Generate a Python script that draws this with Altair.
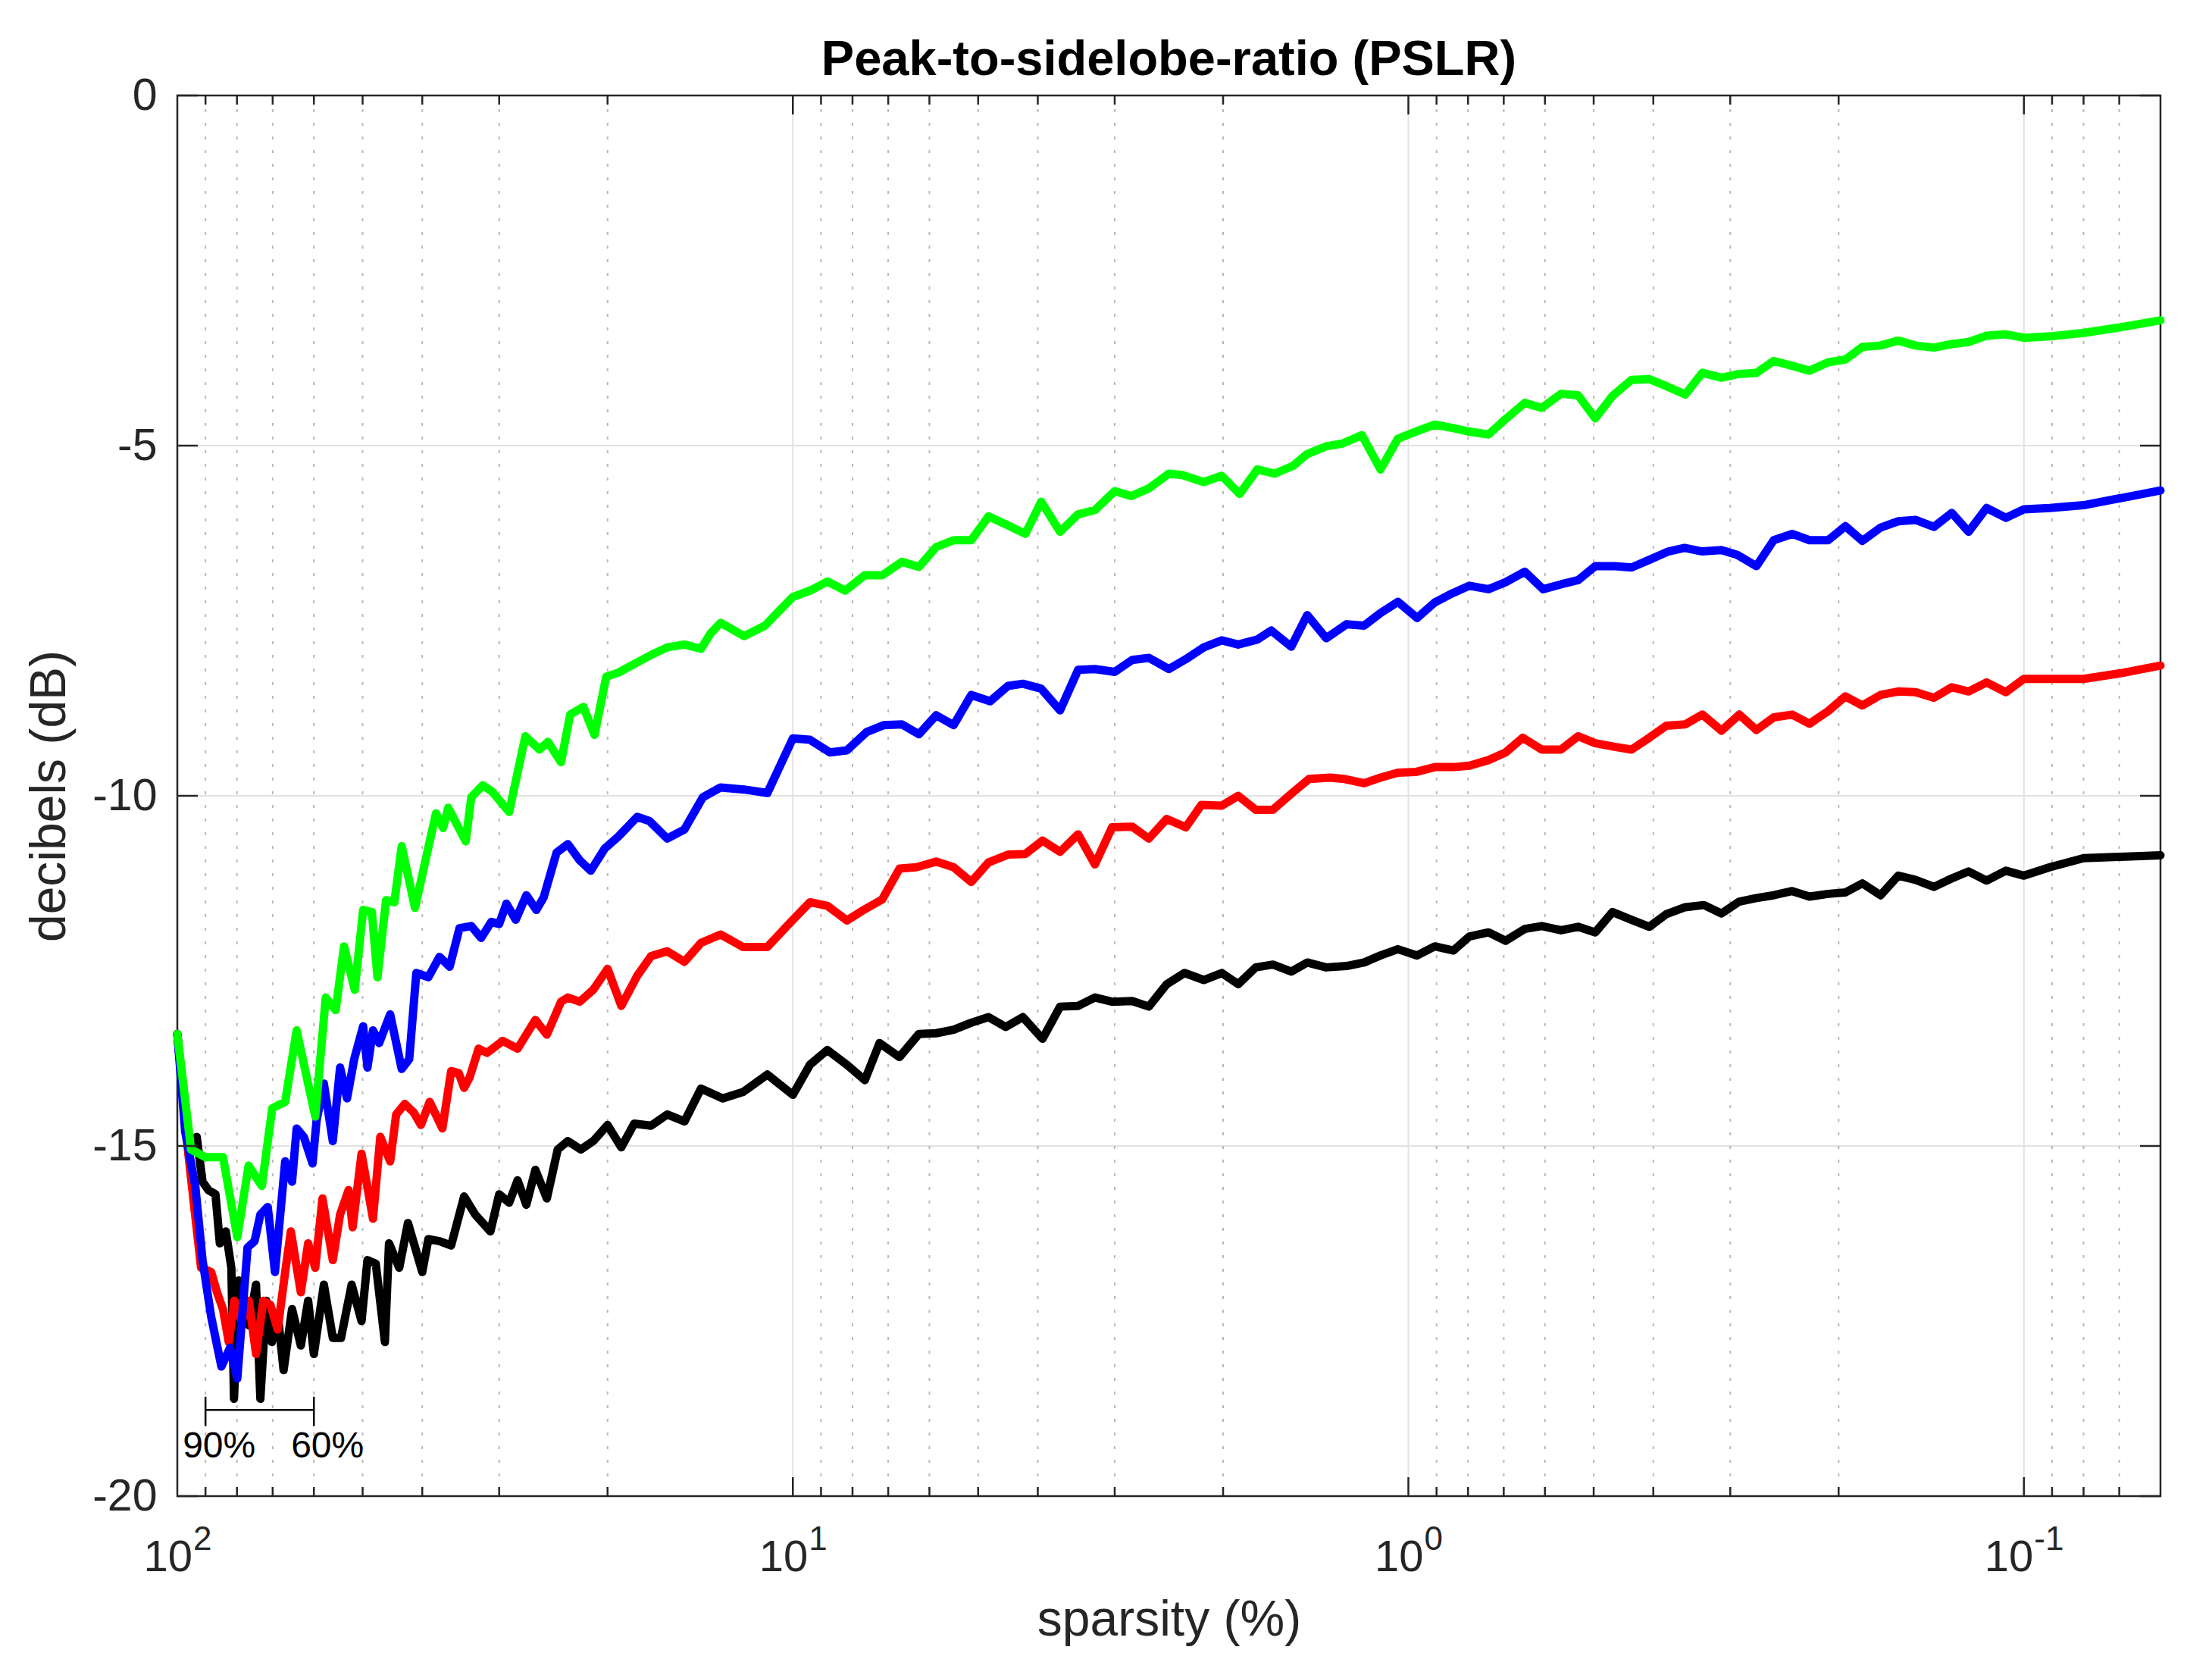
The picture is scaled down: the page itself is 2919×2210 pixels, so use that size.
import altair as alt
import pandas as pd

FONT = "Liberation Sans, Arial, Helvetica, sans-serif"
INK = "#262626"
W, H = 2617, 1848

# (sparsity %, PSLR dB)
green = [(100, -13.4), (95.0, -15.05), (90.0, -15.16), (84.3, -15.16), (79.9, -16.3), (76.6, -15.28),
         (72.9, -15.57), (70.1, -14.46), (66.8, -14.37), (64.0, -13.35), (59.7, -14.58), (57.4, -12.88),
         (55.3, -13.06), (53.6, -12.15), (51.5, -12.77), (49.9, -11.63), (48.3, -11.66), (47.3, -12.59),
         (45.8, -11.49), (44.4, -11.52), (43.2, -10.72), (41.1, -11.6), (38.9, -10.65), (38.0, -10.25),
         (37.0, -10.46), (36.3, -10.17), (34.0, -10.65), (33.3, -10.02), (31.9, -9.85), (30.8, -9.94),
         (28.9, -10.23), (27.2, -9.15), (25.8, -9.34), (25.0, -9.23), (23.8, -9.52), (23.0, -8.84),
         (21.9, -8.73), (21.0, -9.13), (20.1, -8.3), (19.2, -8.24), (18.2, -8.13), (17.0, -7.99),
         (16.0, -7.88), (15.0, -7.84), (14.1, -7.9), (13.6, -7.68), (13.1, -7.53), (12.0, -7.72),
         (11.1, -7.57), (10.5, -7.35), (10.0, -7.16), (9.38, -7.07), (8.79, -6.94), (8.22, -7.07),
         (7.64, -6.85), (7.16, -6.85), (6.65, -6.66), (6.24, -6.73), (5.85, -6.45), (5.48, -6.35),
         (5.13, -6.35), (4.81, -6.01), (4.47, -6.14), (4.19, -6.26), (3.95, -5.8), (3.68, -6.23),
         (3.44, -5.98), (3.23, -5.92), (3.00, -5.65), (2.82, -5.72), (2.64, -5.61), (2.45, -5.4),
         (2.33, -5.42), (2.15, -5.52), (2.01, -5.43), (1.88, -5.69), (1.76, -5.34), (1.65, -5.4),
         (1.54, -5.29), (1.46, -5.12), (1.36, -5.01), (1.28, -4.97), (1.19, -4.85), (1.11, -5.34),
         (1.04, -4.9), (0.973, -4.8), (0.906, -4.7), (0.845, -4.75), (0.796, -4.8), (0.741, -4.84),
         (0.695, -4.62), (0.647, -4.39), (0.607, -4.46), (0.565, -4.26), (0.530, -4.28), (0.497, -4.61),
         (0.466, -4.29), (0.434, -4.06), (0.406, -4.05), (0.381, -4.15), (0.355, -4.27), (0.333, -3.96),
         (0.310, -4.03), (0.292, -3.98), (0.272, -3.96), (0.255, -3.79), (0.238, -3.86), (0.223, -3.93),
         (0.208, -3.81), (0.195, -3.77), (0.183, -3.59), (0.171, -3.57), (0.160, -3.5), (0.150, -3.57),
         (0.140, -3.6), (0.131, -3.55), (0.123, -3.52), (0.115, -3.43), (0.107, -3.41), (0.100, -3.46),
         (0.0908, -3.44), (0.0800, -3.39), (0.0697, -3.31), (0.06, -3.21)]

blue = [(100, -13.4), (97.1, -14.8), (93.5, -15.57), (91.0, -16.63), (88.1, -17.44), (84.8, -18.15),
        (82.1, -17.88), (79.9, -18.32), (76.9, -16.45), (74.9, -16.36), (73.3, -15.98), (71.3, -15.87),
        (69.4, -16.8), (66.8, -15.22), (65.1, -15.51), (64.0, -14.75), (62.3, -14.87), (60.3, -15.25),
        (59.4, -14.64), (57.8, -14.11), (55.9, -14.93), (54.4, -13.88), (53.0, -14.32), (51.6, -13.76),
        (49.9, -13.29), (49.1, -13.88), (48.1, -13.35), (47.0, -13.53), (45.1, -13.12), (43.2, -13.9),
        (42.0, -13.76), (40.9, -12.53), (39.1, -12.59), (37.5, -12.3), (36.1, -12.44), (34.8, -11.89),
        (33.3, -11.86), (32.1, -12.03), (30.9, -11.8), (30.0, -11.83), (29.2, -11.54), (28.2, -11.77),
        (27.1, -11.42), (26.1, -11.63), (25.4, -11.45), (24.2, -10.81), (23.2, -10.69), (22.2, -10.92),
        (21.3, -11.07), (20.2, -10.75), (19.2, -10.58), (17.9, -10.3), (17.1, -10.36), (16.0, -10.61),
        (15.0, -10.48), (14.0, -10.02), (13.1, -9.88), (12.0, -9.91), (11.0, -9.96), (10.0, -9.18),
        (9.38, -9.2), (8.71, -9.38), (8.17, -9.35), (7.59, -9.09), (7.11, -8.99), (6.65, -8.98),
        (6.24, -9.12), (5.85, -8.85), (5.48, -8.99), (5.13, -8.56), (4.78, -8.65), (4.47, -8.43),
        (4.23, -8.4), (3.95, -8.47), (3.68, -8.78), (3.44, -8.2), (3.23, -8.19), (3.00, -8.23),
        (2.81, -8.06), (2.64, -8.03), (2.45, -8.19), (2.30, -8.05), (2.15, -7.88), (2.01, -7.78),
        (1.89, -7.84), (1.76, -7.77), (1.67, -7.64), (1.55, -7.87), (1.46, -7.42), (1.36, -7.75),
        (1.26, -7.55), (1.18, -7.57), (1.11, -7.39), (1.04, -7.23), (0.968, -7.46), (0.906, -7.24),
        (0.849, -7.11), (0.796, -7.0), (0.741, -7.05), (0.695, -6.95), (0.647, -6.8), (0.604, -7.05),
        (0.565, -6.98), (0.530, -6.92), (0.497, -6.72), (0.462, -6.72), (0.434, -6.74), (0.406, -6.63),
        (0.378, -6.51), (0.356, -6.46), (0.333, -6.51), (0.310, -6.49), (0.292, -6.56), (0.272, -6.72),
        (0.255, -6.35), (0.238, -6.26), (0.223, -6.35), (0.208, -6.35), (0.195, -6.15), (0.183, -6.36),
        (0.171, -6.17), (0.160, -6.08), (0.150, -6.06), (0.140, -6.16), (0.131, -5.96), (0.123, -6.23),
        (0.115, -5.89), (0.107, -6.03), (0.100, -5.91), (0.0908, -5.89), (0.0800, -5.85),
        (0.0697, -5.75), (0.06, -5.64)]

red = [(100, -13.4), (96.0, -15.1), (91.5, -16.74), (88.1, -16.8), (86.2, -17.09), (84.3, -17.33),
       (82.5, -17.8), (80.8, -17.21), (78.6, -17.5), (76.5, -17.21), (74.5, -17.97), (72.5, -17.21),
       (70.6, -17.27), (68.7, -17.62), (66.8, -16.8), (65.4, -16.22), (63.0, -17.09), (61.3, -16.39),
       (59.7, -16.74), (58.1, -15.75), (55.9, -16.63), (54.4, -15.98), (52.7, -15.63), (51.9, -16.16),
       (50.2, -15.11), (48.1, -16.04), (46.8, -14.87), (45.1, -15.22), (44.1, -14.55), (42.7, -14.4),
       (41.3, -14.52), (40.2, -14.7), (38.9, -14.37), (37.1, -14.75), (35.9, -13.93), (34.9, -13.96),
       (34.2, -14.17), (33.5, -14.02), (32.4, -13.61), (31.4, -13.67), (29.6, -13.5), (28.0, -13.61),
       (26.2, -13.2), (25.1, -13.41), (23.8, -12.94), (23.2, -12.88), (22.2, -12.94), (21.1, -12.77),
       (20.0, -12.47), (19.0, -13.0), (17.9, -12.57), (17.0, -12.29), (16.0, -12.22), (15.0, -12.37),
       (14.1, -12.1), (13.1, -11.98), (12.05, -12.16), (11.0, -12.16), (10.2, -11.85), (9.38, -11.52),
       (8.79, -11.57), (8.17, -11.78), (7.64, -11.62), (7.16, -11.48), (6.71, -11.04), (6.30, -11.02),
       (5.85, -10.94), (5.48, -11.02), (5.13, -11.23), (4.81, -10.95), (4.47, -10.84), (4.19, -10.83),
       (3.93, -10.64), (3.68, -10.8), (3.44, -10.55), (3.23, -10.98), (3.03, -10.45), (2.81, -10.44),
       (2.64, -10.61), (2.47, -10.33), (2.30, -10.45), (2.17, -10.13), (2.01, -10.14), (1.89, -10.0),
       (1.77, -10.2), (1.66, -10.2), (1.54, -9.95), (1.45, -9.76), (1.34, -9.74), (1.27, -9.76),
       (1.18, -9.82), (1.11, -9.74), (1.04, -9.67), (0.973, -9.66), (0.906, -9.59), (0.845, -9.59),
       (0.796, -9.57), (0.741, -9.49), (0.695, -9.38), (0.652, -9.17), (0.607, -9.34), (0.565, -9.34),
       (0.530, -9.15), (0.497, -9.25), (0.462, -9.3), (0.434, -9.34), (0.406, -9.17), (0.381, -9.0),
       (0.355, -8.98), (0.333, -8.84), (0.310, -9.07), (0.290, -8.84), (0.272, -9.06), (0.255, -8.88),
       (0.238, -8.84), (0.223, -8.97), (0.208, -8.79), (0.195, -8.58), (0.183, -8.71), (0.171, -8.56),
       (0.160, -8.51), (0.150, -8.52), (0.140, -8.6), (0.131, -8.45), (0.123, -8.51), (0.115, -8.38),
       (0.107, -8.52), (0.100, -8.33), (0.0908, -8.33), (0.0800, -8.33), (0.0697, -8.25), (0.06, -8.14)]

black = [(100, -13.4), (96.0, -14.99), (93.0, -14.87), (91.0, -15.51), (89.0, -15.63), (86.7, -15.69),
         (85.3, -16.39), (83.4, -16.22), (81.7, -16.74), (80.9, -18.61), (79.5, -16.92), (76.5, -17.56),
         (74.5, -16.98), (73.3, -18.61), (71.7, -17.21), (70.2, -17.8), (68.7, -17.39), (67.2, -18.2),
         (65.1, -17.33), (63.0, -17.85), (61.3, -17.21), (60.0, -17.97), (57.8, -16.98), (55.9, -17.74),
         (54.2, -17.74), (52.1, -16.98), (50.2, -17.5), (49.1, -16.63), (47.6, -16.68), (46.0, -17.8),
         (45.3, -16.39), (43.6, -16.74), (42.2, -16.1), (40.0, -16.8), (39.1, -16.33), (37.5, -16.36),
         (35.9, -16.42), (34.2, -15.72), (32.8, -15.98), (31.0, -16.22), (30.0, -15.69), (28.9, -15.81),
         (28.0, -15.49), (27.1, -15.84), (26.2, -15.34), (25.1, -15.75), (24.1, -15.05), (23.2, -14.93),
         (22.1, -15.05), (21.1, -14.93), (20.0, -14.7), (19.0, -15.02), (18.1, -14.68), (17.0, -14.71),
         (16.0, -14.55), (15.0, -14.65), (14.1, -14.18), (13.0, -14.32), (12.05, -14.23), (11.0, -13.98),
         (10.0, -14.27), (9.38, -13.84), (8.79, -13.63), (8.17, -13.84), (7.64, -14.06), (7.23, -13.53),
         (6.71, -13.73), (6.24, -13.4), (5.85, -13.39), (5.48, -13.34), (5.13, -13.24), (4.81, -13.16),
         (4.51, -13.3), (4.23, -13.16), (3.93, -13.47), (3.68, -13.01), (3.44, -13.0), (3.23, -12.88),
         (3.03, -12.94), (2.81, -12.93), (2.64, -13.01), (2.47, -12.69), (2.31, -12.53), (2.15, -12.63),
         (2.01, -12.53), (1.89, -12.69), (1.77, -12.45), (1.66, -12.41), (1.55, -12.51), (1.46, -12.38),
         (1.36, -12.45), (1.26, -12.43), (1.18, -12.38), (1.11, -12.28), (1.04, -12.19), (0.968, -12.28),
         (0.906, -12.15), (0.845, -12.21), (0.796, -12.01), (0.741, -11.95), (0.695, -12.07),
         (0.647, -11.9), (0.607, -11.86), (0.565, -11.92), (0.530, -11.87), (0.497, -11.95),
         (0.466, -11.66), (0.434, -11.77), (0.406, -11.87), (0.381, -11.69), (0.355, -11.59),
         (0.331, -11.56), (0.310, -11.68), (0.290, -11.51), (0.272, -11.46), (0.255, -11.42),
         (0.238, -11.36), (0.223, -11.44), (0.208, -11.4), (0.195, -11.38), (0.183, -11.25),
         (0.171, -11.42), (0.160, -11.14), (0.150, -11.2), (0.140, -11.3), (0.131, -11.18),
         (0.123, -11.08), (0.115, -11.21), (0.107, -11.07), (0.100, -11.14), (0.0908, -11.02),
         (0.0800, -10.89), (0.0697, -10.87), (0.06, -10.85)]

series = [black, red, blue, green]
series_colors = ["#000000", "#ff0000", "#0000ff", "#00ff00"]

chart_title = "Peak-to-sidelobe-ratio (PSLR)"
x_title = "sparsity (%)"
y_title = "decibels (dB)"

x_major = [10, 1, 0.1]
x_minor = [90, 80, 70, 60, 50, 40, 30, 20, 9, 8, 7, 6, 5, 4, 3, 2,
           0.9, 0.8, 0.7, 0.6, 0.5, 0.4, 0.3, 0.2, 0.09, 0.08, 0.07]
x_label_at = [100, 10, 1, 0.1]
x_label_exp = ["2", "1", "0", "-1"]
y_ticks = [0, -5, -10, -15, -20]
y_grid = [-5, -10, -15]

bracket_s = [90, 60]
bracket_db = -18.77
bracket_end_db = (-18.58, -19.0)
bracket_text = ["90%", "60%"]
bracket_text_db = -19.3

xs = alt.Scale(type="log", domain=[0.06, 100], reverse=True, nice=False)
ys = alt.Scale(domain=[-20, 0], nice=False, zero=False)

# one axis definition, repeated on every layer so the shared axes merge cleanly
x_axis = alt.Axis(title=x_title, labels=False, ticks=False, domain=False, grid=False,
                  titleFont=FONT, titleFontSize=66, titleFontWeight="normal", titleColor=INK,
                  titleY=163, titleBaseline="middle")
y_axis = alt.Axis(title=y_title, values=y_ticks, labelExpr="datum.value + ''", labelFont=FONT,
                  labelFontSize=59, labelColor=INK, labelPadding=27, ticks=False, domain=False,
                  grid=False, titleFont=FONT, titleFontSize=66, titleFontWeight="normal",
                  titleColor=INK, titleX=-169, titleY=H / 2, titleBaseline="middle")


def xenc(field):
    return alt.X(field, type="quantitative", scale=xs, axis=x_axis)


def yenc(field):
    return alt.Y(field, type="quantitative", scale=ys, axis=y_axis)


layers = []
# horizontal grid
layers.append(alt.Chart(pd.DataFrame({"db": y_grid})).mark_rule(
    color="#e2e2e2", strokeWidth=2).encode(y=yenc("db")))
# minor and major vertical grid
layers.append(alt.Chart(pd.DataFrame({"s": x_minor})).mark_rule(
    color="#b9b9b9", strokeWidth=2, strokeDash=[4, 14]).encode(x=xenc("s")))
layers.append(alt.Chart(pd.DataFrame({"s": x_major})).mark_rule(
    color="#e2e2e2", strokeWidth=2).encode(x=xenc("s")))

for pts, col in zip(series, series_colors):
    df = pd.DataFrame(pts, columns=["s", "db"])
    layers.append(alt.Chart(df).mark_line(color=col, strokeWidth=11, strokeJoin="round",
                                          strokeCap="round").encode(x=xenc("s"), y=yenc("db")))

tick_style = dict(color=INK, strokeWidth=2.5)
xmaj = pd.DataFrame({"s": x_major})
xmin = pd.DataFrame({"s": x_minor})
yt = pd.DataFrame({"db": y_ticks})
for df, ln in ((xmaj, 25), (xmin, 12)):
    layers.append(alt.Chart(df).mark_rule(**tick_style).encode(
        x=xenc("s"), y=alt.value(H), y2=alt.value(H - ln)))
    layers.append(alt.Chart(df).mark_rule(**tick_style).encode(
        x=xenc("s"), y=alt.value(0), y2=alt.value(ln)))
layers.append(alt.Chart(yt).mark_rule(**tick_style).encode(y=yenc("db"), x=alt.value(0), x2=alt.value(27)))
layers.append(alt.Chart(yt).mark_rule(**tick_style).encode(y=yenc("db"), x=alt.value(W - 27), x2=alt.value(W)))

# x tick labels: "10" with raised exponent
for at, e in zip(x_label_at, x_label_exp):
    w_exp = sum(15.0 if ch == "-" else 24.5 for ch in e)
    shift = (64.5 - w_exp) / 2
    layers.append(alt.Chart(pd.DataFrame({"s": [at], "t": ["10"]})).mark_text(
        align="right", baseline="alphabetic", dx=shift, fontSize=58, font=FONT, color=INK).encode(
        x=xenc("s"), y=alt.value(1947), text="t:N"))
    layers.append(alt.Chart(pd.DataFrame({"s": [at], "t": [e]})).mark_text(
        align="left", baseline="alphabetic", dx=shift + 1, fontSize=44, font=FONT, color=INK).encode(
        x=xenc("s"), y=alt.value(1919), text="t:N"))

# bracket annotation
layers.append(alt.Chart(pd.DataFrame({"a": [bracket_s[0]], "b": [bracket_s[1]], "db": [bracket_db]}))
              .mark_rule(color="#000000", strokeWidth=2.5)
              .encode(x=xenc("a"), x2="b:Q", y=yenc("db")))
layers.append(alt.Chart(pd.DataFrame({"s": bracket_s, "d1": [bracket_end_db[0]] * 2,
                                      "d2": [bracket_end_db[1]] * 2}))
              .mark_rule(color="#000000", strokeWidth=2.5)
              .encode(x=xenc("s"), y=yenc("d1"), y2="d2:Q"))
layers.append(alt.Chart(pd.DataFrame({"s": bracket_s, "t": bracket_text, "db": [bracket_text_db] * 2}))
              .mark_text(dx=18, align="center", baseline="middle", fontSize=48, font=FONT, color="#000000")
              .encode(x=xenc("s"), y=yenc("db"), text="t:N"))

# chart title as text above the plot
layers.append(alt.Chart(pd.DataFrame({"t": [chart_title]})).mark_text(
    align="center", baseline="alphabetic", fontSize=65, fontWeight="bold", font=FONT, color="#000000").encode(
    x=alt.value(W / 2), y=alt.value(-27), text="t:N"))

chart = alt.layer(*layers).properties(
    width=W, height=H,
    padding={"left": 226, "top": 118, "right": 60, "bottom": 228},
    autosize=alt.AutoSizeParams(type="none"),
).configure(background="white").configure_view(stroke=INK, strokeWidth=2.5)

chart.save("out.html", embed_options={"renderer": "svg", "actions": False})
